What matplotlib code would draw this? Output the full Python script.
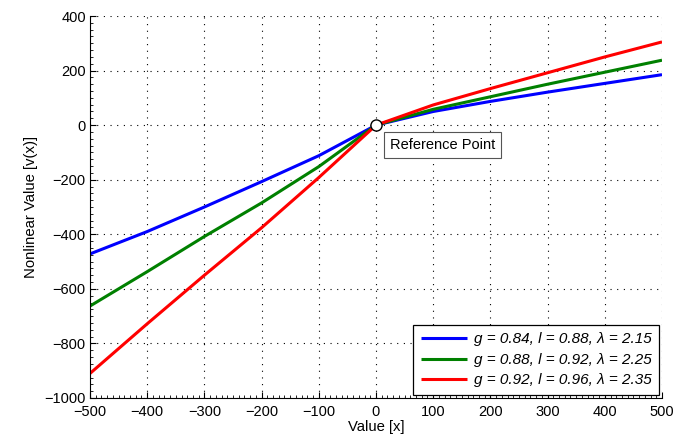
import matplotlib
matplotlib.use("Agg")
import matplotlib.pyplot as plt
from matplotlib.ticker import MultipleLocator

plt.rcParams["font.family"] = ["Liberation Sans", "DejaVu Sans"]

# value function samples for three parameter sets
x_vals = [-500, -400, -300, -200, -100, 0, 100, 200, 300, 400, 500]
v_blue = [-472, -390, -300, -207, -112, 0, 50, 87, 121, 153, 185]
v_green = [-663, -537, -408, -285, -152, 0, 58, 104, 150, 194, 238]
v_red = [-910, -728, -550, -376, -192, 0, 74, 134, 192, 250, 305]

labels = [
    "g = 0.84, l = 0.88, λ = 2.15",
    "g = 0.88, l = 0.92, λ = 2.25",
    "g = 0.92, l = 0.96, λ = 2.35",
]
colors = ["#0000ff", "#008000", "#ff0000"]

fig = plt.figure(figsize=(6.88, 4.38), dpi=100)
ax = fig.add_axes([90 / 688, 1 - 398 / 438, 572 / 688, 382 / 438])

for ys, lab, c in zip([v_blue, v_green, v_red], labels, colors):
    ax.plot(x_vals, ys, color=c, linewidth=2.2, label=lab, solid_capstyle="butt")

ax.plot([0], [0], "o", markersize=8, markerfacecolor="white",
        markeredgecolor="black", markeredgewidth=1.0, zorder=5)
ax.annotate("Reference Point", xy=(0, 0), xytext=(14, -13), textcoords="offset pixels",
            fontsize=10.5, ha="left", va="top",
            bbox=dict(boxstyle="square,pad=0.4", facecolor="white", edgecolor="#555555",
                      linewidth=0.8))

ax.set_xlim(-500, 500)
ax.set_ylim(-1000, 400)
ax.xaxis.set_major_locator(MultipleLocator(100))
ax.yaxis.set_major_locator(MultipleLocator(200))
ax.xaxis.set_minor_locator(MultipleLocator(10))
ax.yaxis.set_minor_locator(MultipleLocator(25))

for side in ("top", "right"):
    ax.spines[side].set_visible(False)
for side in ("left", "bottom"):
    ax.spines[side].set_linewidth(0.8)

ax.tick_params(which="both", direction="in", labelsize=10.5, top=False, right=False)
ax.tick_params(which="major", length=4, width=0.8)
ax.tick_params(which="minor", length=2, width=0.6)
ax.tick_params(axis="x", which="major", pad=5)
ax.tick_params(axis="y", which="major", pad=3)
ax.grid(True, which="major", color="black", linestyle=(0, (1, 5)), linewidth=0.8)

ax.set_xlabel("Value [x]", fontsize=10.7, labelpad=1)
ax.set_ylabel("Nonlinear Value [v(x)]", fontsize=10.7, labelpad=5)

leg = ax.legend(loc="lower right", handlelength=3.0, borderaxespad=0.2,
                fancybox=False, framealpha=1, edgecolor="black",
                prop={"style": "italic", "size": 11}, labelspacing=0.42,
                borderpad=0.5, handletextpad=0.45)
leg.get_frame().set_linewidth(0.9)

fig.savefig("out.png", dpi=100)
